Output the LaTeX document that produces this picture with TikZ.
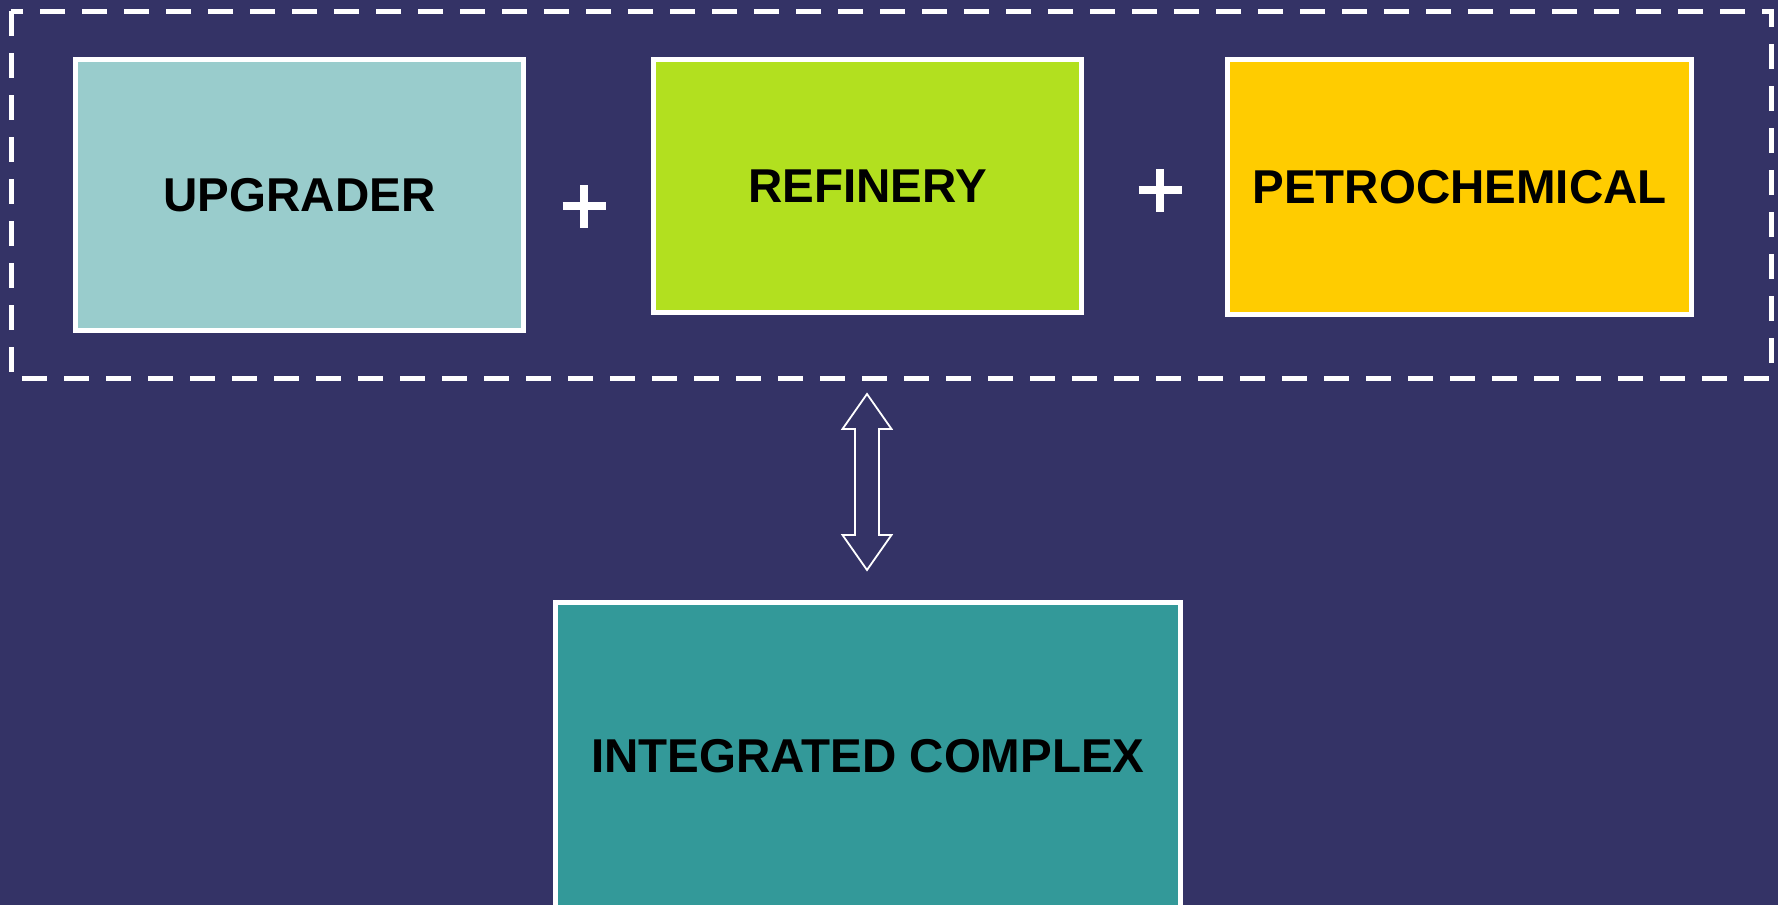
\documentclass[tikz,border=0pt]{standalone}
\usepackage{fontspec}
\setmainfont{Liberation Sans}
\definecolor{bgc}{HTML}{343366}
\definecolor{upc}{HTML}{99CCCC}
\definecolor{refc}{HTML}{B2E01F}
\definecolor{petc}{HTML}{FFCC00}
\definecolor{intc}{HTML}{339999}
\begin{document}
\begin{tikzpicture}[x=1pt,y=-1pt,
  box/.style={draw=white, line width=5pt, rectangle, inner sep=0pt, align=center,
    font=\fontsize{47.5}{56}\selectfont\bfseries, text=black},
  plussign/.style={draw=white, line width=7.5pt},
  group/.style={draw=white, line width=5pt, dash pattern=on 25pt off 17pt},
  blockarrow/.style={draw=white, line width=1.8pt, line join=miter}]
\useasboundingbox (0,0) rectangle (1778,905);
\fill[bgc] (0,0) rectangle (1778,905);
\draw[group] (11,11) rectangle (1771,378);
\node[box, fill=upc, minimum width=448pt, minimum height=271pt] (up) at (299.5,195) {UPGRADER};
\node[box, fill=refc, minimum width=428pt, minimum height=253pt] (ref) at (867.5,186) {REFINERY};
\node[box, fill=petc, minimum width=464pt, minimum height=255pt] (pet) at (1459.5,187) {PETROCHEMICAL};
\node[box, fill=intc, minimum width=625pt, minimum height=307pt] (int) at (868,756) {INTEGRATED COMPLEX};
% plus signs
\coordinate (p1) at (584,206);
\coordinate (p2) at (1160,190);
\foreach \p in {p1,p2}{
  \draw[plussign] ([xshift=-21.5pt]\p) -- ([xshift=21.5pt]\p);
  \draw[plussign] ([yshift=-21.5pt]\p) -- ([yshift=21.5pt]\p);
}
% double block arrow
\coordinate (ac) at (867,482);
\draw[blockarrow] ([yshift=-88pt]ac) -- ([shift={(24.5pt,-53pt)}]ac) -- ([shift={(12pt,-53pt)}]ac)
  -- ([shift={(12pt,53pt)}]ac) -- ([shift={(24.5pt,53pt)}]ac) -- ([yshift=88pt]ac)
  -- ([shift={(-24.5pt,53pt)}]ac) -- ([shift={(-12pt,53pt)}]ac) -- ([shift={(-12pt,-53pt)}]ac)
  -- ([shift={(-24.5pt,-53pt)}]ac) -- cycle;
\end{tikzpicture}
\end{document}
